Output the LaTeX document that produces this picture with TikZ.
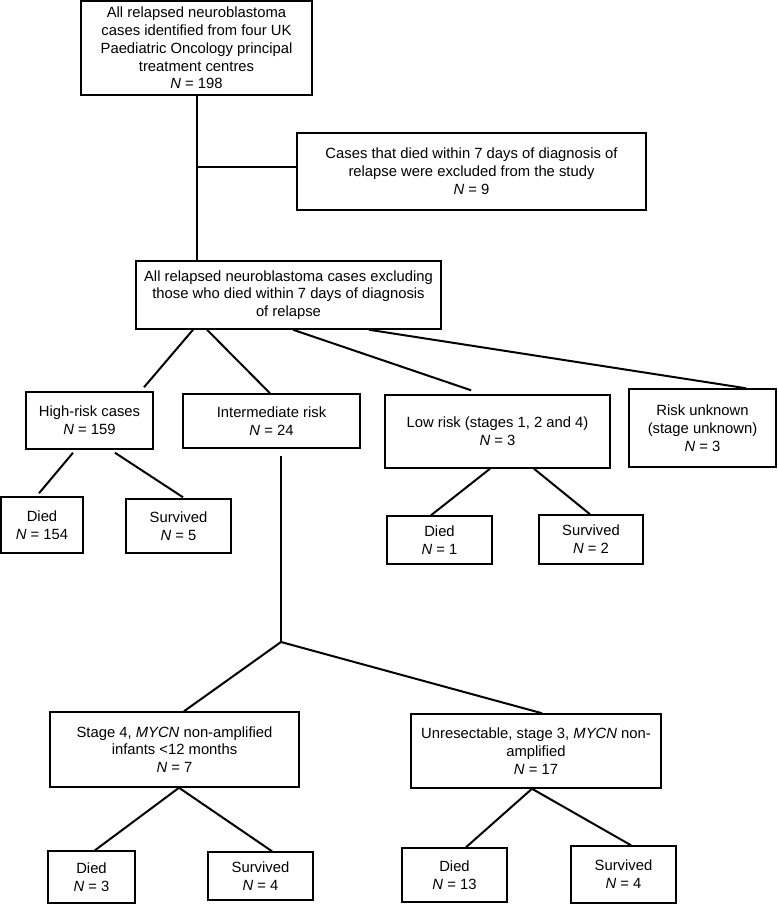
\documentclass[tikz,border=0pt]{standalone}
\usepackage{fontspec}
\setmainfont{Liberation Sans}
\usetikzlibrary{calc}
\begin{document}
\begin{tikzpicture}[x=1pt,y=-1pt]
		\tikzstyle{box} = [draw, line width=1.5, rectangle, inner sep=0, align=center, font=\fontsize{14.8}{17.8}\selectfont]
		\tikzstyle{line} = [draw, line width=2]
		\useasboundingbox (0,0) rectangle (777,905);
		\node [box, minimum width=231, minimum height=94] (v1) at (196.5,48) {All relapsed neuroblastoma\\cases identified from four UK\\Paediatric Oncology principal\\treatment centres\\\textit{N} = 198};
		\node [box, minimum width=349, minimum height=77] (v2) at (471.5,171.5) {Cases that died within 7 days of diagnosis of\\relapse were excluded from the study\\\textit{N} = 9};
		\node [box, minimum width=305, minimum height=68] (v3) at (288.5,295) {All relapsed neuroblastoma cases excluding\\those who died within 7 days of diagnosis\\of relapse};
		\node [box, minimum width=127, minimum height=57] (v4) at (89.5,420.5) {High-risk cases\\\textit{N} = 159};
		\node [box, minimum width=177, minimum height=54] (v5) at (271.5,421) {Intermediate risk\\\textit{N} = 24};
		\node [box, minimum width=225, minimum height=73] (v6) at (497.5,431.5) {Low risk (stages 1, 2 and 4)\\\textit{N} = 3};
		\node [box, minimum width=147, minimum height=78] (v7) at (702.5,428) {Risk unknown\\(stage unknown)\\\textit{N} = 3};
		\node [box, minimum width=82, minimum height=56] (v8) at (42,525) {Died\\\textit{N} = 154};
		\node [box, minimum width=105, minimum height=54] (v9) at (178.5,526) {Survived\\\textit{N} = 5};
		\node [box, minimum width=105, minimum height=48] (v10) at (439.5,540) {Died\\\textit{N} = 1};
		\node [box, minimum width=104, minimum height=49] (v11) at (591,539.5) {Survived\\\textit{N} = 2};
		\node [box, minimum width=249, minimum height=75] (v12) at (174.5,749.5) {Stage 4, \textit{MYCN} non-amplified\\infants <12 months\\\textit{N} = 7};
		\node [box, minimum width=250, minimum height=74] (v13) at (536,751) {Unresectable, stage 3, \textit{MYCN} non-\\amplified\\\textit{N} = 17};
		\node [box, minimum width=87, minimum height=52] (v14) at (91.5,877) {Died\\\textit{N} = 3};
		\node [box, minimum width=105, minimum height=48] (v15) at (260.5,876) {Survived\\\textit{N} = 4};
		\node [box, minimum width=105, minimum height=54] (v16) at (454.5,875) {Died\\\textit{N} = 13};
		\node [box, minimum width=105, minimum height=57] (v17) at (623.5,874.5) {Survived\\\textit{N} = 4};
		% exclusion branch
		\coordinate (v18) at ($(v1.south |- v2.west)+(0,-5)$);
		\draw [line] (v1.south) edge (v1.south |- v3.north);
		\draw [line] (v18) edge ($(v2.west)+(0,-5)$);
		% risk groups
		\draw [line] ($(v3.south)+(-95.5,0)$) edge ($(v4.north)+(54.5,-4)$);
		\draw [line] ($(v3.south)+(-81.5,0)$) edge ($(v5.north)+(-1.5,0)$);
		\draw [line] ($(v3.south)+(4.5,0)$) edge ($(v6.north)+(-26.5,-4)$);
		\draw [line] ($(v3.south)+(80.5,0)$) edge ($(v7.north)+(43.5,0)$);
		\draw [line] ($(v4.south)+(-16.5,3)$) edge ($(v8.north)+(-3,-3)$);
		\draw [line] ($(v4.south)+(25.5,3)$) edge ($(v9.north)+(4.5,-1)$);
		\draw [line] ($(v6.south)+(-7.5,0)$) edge ($(v10.north)+(-8.5,0)$);
		\draw [line] ($(v6.south)+(36.5,0)$) edge ($(v11.north)+(-1,0)$);
		% intermediate split
		\coordinate (v19) at ($(v5.south)+(9.5,7)$);
		\coordinate (v20) at (v19 |- 0,642);
		\draw [line] (v19) edge (v20);
		\draw [line] (v20) edge ($(v12.north)+(9.5,0)$);
		\draw [line] (v20) edge ($(v13.north)+(6,0)$);
		\draw [line] ($(v12.south)+(4.5,0)$) edge ($(v14.north)+(3.5,0)$);
		\draw [line] ($(v12.south)+(4.5,0)$) edge ($(v15.north)+(11.5,0)$);
		\draw [line] ($(v13.south)+(-4,0)$) edge ($(v16.north)+(11.5,0)$);
		\draw [line] ($(v13.south)+(-4,0)$) edge ($(v17.north)+(7.5,0)$);
\end{tikzpicture}
\end{document}
